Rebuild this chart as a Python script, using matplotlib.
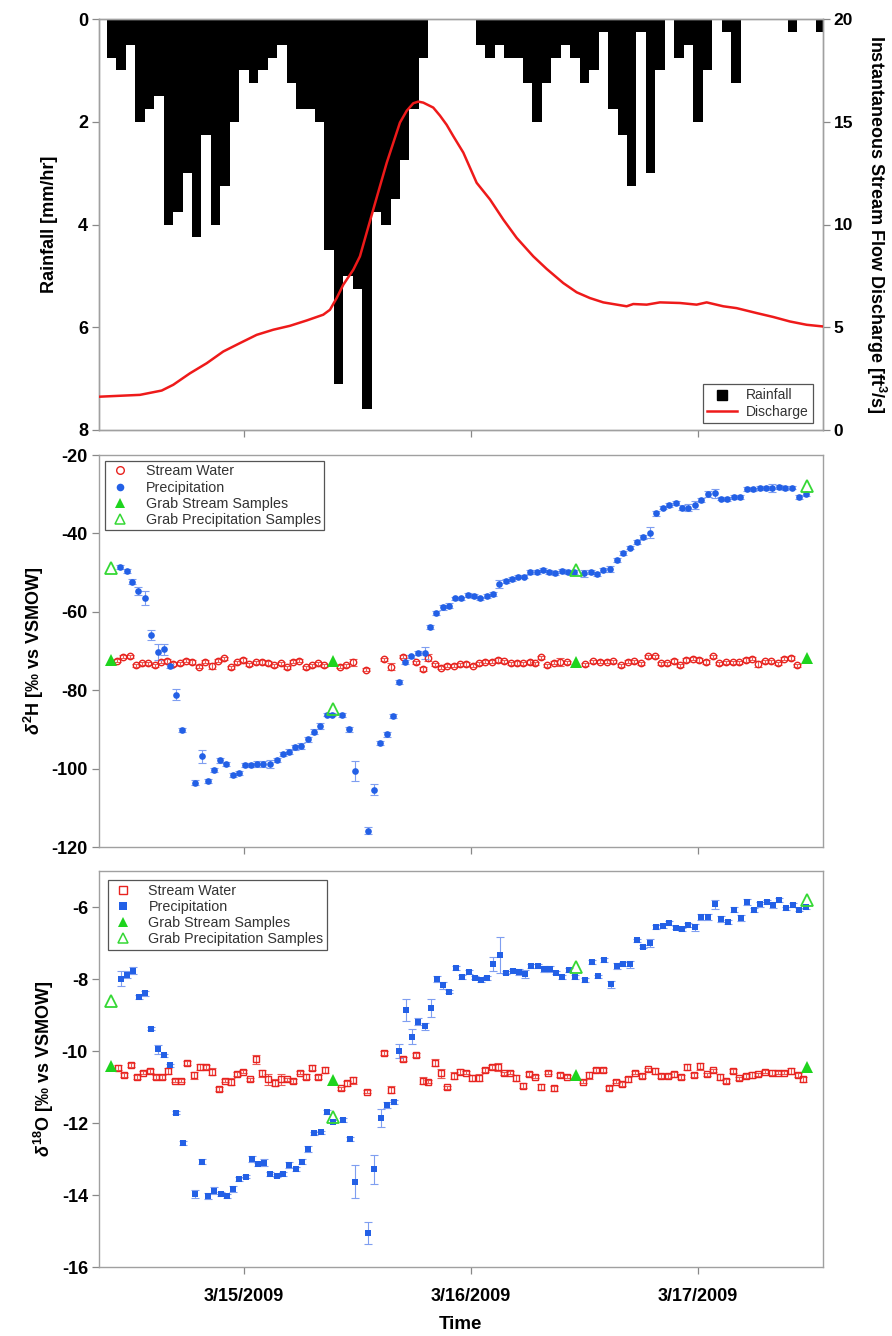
import numpy as np
import matplotlib
matplotlib.use('Agg')
import matplotlib.pyplot as plt
from matplotlib.lines import Line2D

plt.rcParams['font.family'] = ['Liberation Sans', 'DejaVu Sans']
plt.rcParams['mathtext.fontset'] = 'custom'
plt.rcParams['mathtext.rm'] = 'Liberation Sans:bold'
plt.rcParams['mathtext.it'] = 'Liberation Sans:italic:bold'
plt.rcParams['mathtext.bf'] = 'Liberation Sans:bold'
plt.rcParams['axes.unicode_minus'] = False

# ---------------- data (time in hours since 3/14/2009 00:00) ----------------
rain_start_hour = 10
rain = [0.75, 1.0, 0.5, 2.0, 1.75, 1.5, 4.0, 3.75, 3.0, 4.25,
        2.25, 4.0, 3.25, 2.0, 1.0, 1.25, 1.0, 0.75, 0.5, 1.25,
        1.75, 1.75, 2.0, 4.5, 7.1, 5.0, 5.25, 7.6, 3.75, 4.0,
        3.5, 2.75, 1.75, 0.75, 0, 0, 0, 0, 0, 0.5,
        0.75, 0.5, 0.75, 0.75, 1.25, 2.0, 1.25, 0.75, 0.5, 0.75,
        1.25, 1.0, 0.25, 1.75, 2.25, 3.25, 0.25, 3.0, 1.0, 0,
        0.75, 0.5, 2.0, 1.0, 0, 0.25, 1.25, 0, 0, 0,
        0, 0, 0.25, 0, 0, 0.25]

q_t = [8.70, 13.0, 15.3, 16.52, 18.29, 20.06, 21.81, 23.58, 25.34, 27.10,
       28.86, 30.63, 32.38, 33.09, 33.80, 34.50, 35.56, 36.26, 36.97, 37.67,
       38.38, 39.09, 39.79, 40.49, 41.20, 41.90, 42.43, 42.96, 44.01, 44.72,
       45.43, 46.13, 47.19, 48.6, 50.01, 51.42, 52.83, 54.59, 56.0, 57.76,
       59.18, 60.58, 61.99, 64.46, 65.16, 66.58, 67.98, 70.10, 71.86, 72.92,
       74.68, 76.09, 78.21, 79.96, 81.73, 83.49, 85.18]
q_v = [1.62, 1.71, 1.92, 2.2, 2.76, 3.25, 3.82, 4.23, 4.63, 4.88,
       5.07, 5.33, 5.61, 5.85, 6.42, 7.07, 7.8, 8.45, 9.6, 10.73,
       11.87, 13.0, 13.98, 14.96, 15.53, 15.9, 15.98, 15.93, 15.69, 15.3,
       14.85, 14.3, 13.5, 12.03, 11.22, 10.24, 9.35, 8.45, 7.84, 7.15,
       6.7, 6.42, 6.21, 6.02, 6.13, 6.1, 6.21, 6.18, 6.1, 6.21,
       6.02, 5.93, 5.69, 5.5, 5.28, 5.12, 5.04]

# delta 2H precipitation
p2_t = [10.86, 11.60, 12.19, 12.83, 13.57, 14.17, 14.88, 15.54, 16.15, 16.84,
        17.48, 18.85, 19.53, 20.16, 20.83, 21.46, 22.10, 22.81, 23.47, 24.11,
        24.74, 25.41, 26.04, 26.72, 27.46, 28.09, 28.76, 29.43, 30.06, 30.77,
        31.40, 32.00, 32.74, 33.34, 34.33, 35.14, 35.74, 37.08, 37.71, 38.41,
        39.09, 39.75, 40.42, 41.02, 41.69, 42.40, 43.11, 43.67, 44.33, 45.01,
        45.64, 46.31, 46.98, 47.65, 48.32, 48.99, 49.66, 50.30, 50.99, 51.67,
        52.31, 52.94, 53.61, 54.24, 54.95, 55.61, 56.28, 56.91, 57.59, 58.26,
        58.92, 59.95, 60.69, 61.36, 61.99, 62.73, 63.44, 64.10, 64.81, 65.52,
        66.19, 66.89, 67.59, 68.27, 68.94, 69.65, 70.31, 70.98, 71.69, 72.35,
        73.06, 73.77, 74.43, 75.10, 75.78, 76.48, 77.15, 77.82, 78.53, 79.19,
        79.86, 80.57, 81.23, 81.94, 82.65, 83.39]
p2_v = [-48.5, -49.6, -52.3, -54.7, -56.4, -65.9, -70.2, -69.6, -73.8, -81.1,
        -90.2, -103.6, -96.9, -103.1, -100.4, -97.9, -98.8, -101.6, -101.2, -99.1,
        -99.1, -98.8, -98.8, -98.8, -97.8, -96.3, -95.7, -94.6, -94.2, -92.5,
        -90.6, -89.1, -86.2, -86.2, -86.3, -90.0, -100.6, -115.8, -105.4, -93.5,
        -91.3, -86.6, -77.9, -72.9, -71.4, -70.6, -70.6, -63.9, -60.3, -58.9,
        -58.4, -56.6, -56.6, -55.7, -56.0, -56.6, -56.0, -55.5, -53.0, -52.2,
        -51.6, -51.0, -51.0, -49.9, -49.9, -49.3, -49.8, -50.2, -49.6, -49.8,
        -49.8, -50.2, -49.8, -50.4, -49.3, -49.1, -46.9, -45.1, -43.6, -42.3,
        -41.0, -39.8, -34.9, -33.4, -32.8, -32.3, -33.4, -33.4, -32.8, -31.5,
        -29.9, -29.8, -31.1, -31.2, -30.6, -30.8, -28.7, -28.8, -28.5, -28.5,
        -28.5, -28.1, -28.5, -28.3, -30.8, -29.9]
p2_e = [0.5, 0.5, 0.6, 1.0, 1.8, 1.2, 2.0, 1.5, 0.6, 1.5,
        0.5, 0.7, 1.6, 0.5, 0.5, 0.6, 0.6, 0.5, 0.5, 0.5,
        0.5, 0.8, 0.8, 1.0, 0.6, 0.6, 0.6, 0.6, 0.8, 0.6,
        0.6, 0.7, 0.5, 0.5, 0.5, 0.6, 2.5, 0.9, 1.4, 0.6,
        0.6, 0.6, 0.5, 0.5, 0.5, 0.5, 1.5, 0.6, 0.5, 0.6,
        0.6, 0.5, 0.5, 0.5, 0.5, 0.5, 0.5, 0.5, 1.0, 0.5,
        0.5, 0.5, 0.5, 0.5, 0.5, 0.5, 0.5, 0.5, 0.5, 0.5,
        0.5, 0.8, 0.5, 0.5, 0.5, 0.8, 0.5, 0.5, 0.5, 0.5,
        0.5, 1.5, 0.6, 0.5, 0.5, 0.5, 0.6, 0.8, 1.0, 0.5,
        0.8, 1.2, 0.5, 0.5, 0.5, 0.5, 0.6, 0.5, 0.5, 0.5,
        1.0, 0.5, 0.5, 0.5, 0.5, 0.5]

# delta 2H stream water
s2_t = [10.60, 11.21, 11.95, 12.61, 13.25, 13.88, 14.59, 15.23, 15.89, 16.49,
        17.20, 17.90, 18.53, 19.24, 19.91, 20.59, 21.22, 21.89, 22.59, 23.23,
        23.89, 24.56, 25.24, 25.87, 26.54, 27.20, 27.88, 28.52, 29.21, 29.85,
        30.52, 31.16, 31.79, 32.49, 34.15, 34.79, 35.56, 36.87, 38.84, 39.51,
        40.84, 42.19, 42.89, 43.49, 44.19, 44.83, 45.50, 46.17, 46.84, 47.50,
        48.18, 48.85, 49.51, 50.19, 50.86, 51.52, 52.20, 52.87, 53.53, 54.21,
        54.77, 55.37, 56.07, 56.75, 57.41, 58.12, 60.01, 60.93, 61.64, 62.35,
        63.05, 63.89, 64.57, 65.24, 66.01, 66.75, 67.46, 68.09, 68.76, 69.43,
        70.10, 70.77, 71.44, 72.11, 72.82, 73.56, 74.26, 74.96, 75.67, 76.37,
        77.05, 77.71, 78.38, 79.05, 79.75, 80.46, 81.13, 81.80, 82.50]
s2_v = [-72.5, -71.5, -71.3, -73.6, -73.1, -73.1, -73.6, -72.7, -72.5, -73.3,
        -73.1, -72.5, -72.9, -74.0, -72.7, -73.8, -72.5, -71.9, -74.1, -72.9,
        -72.3, -73.4, -72.9, -72.9, -73.1, -73.6, -73.1, -74.2, -72.7, -72.5,
        -74.2, -73.6, -73.1, -73.6, -74.0, -73.6, -72.9, -74.8, -72.1, -74.0,
        -71.5, -72.9, -74.6, -71.7, -73.4, -74.3, -73.7, -73.8, -73.4, -73.3,
        -73.7, -73.1, -72.7, -72.7, -72.3, -72.6, -73.1, -73.1, -73.1, -72.9,
        -73.1, -71.6, -73.6, -73.0, -72.7, -72.9, -73.4, -72.6, -72.7, -72.7,
        -72.6, -73.6, -72.7, -72.6, -73.1, -71.4, -71.4, -73.1, -73.1, -72.6,
        -73.6, -72.3, -72.0, -72.3, -72.7, -71.4, -73.1, -72.9, -72.9, -72.9,
        -72.3, -72.0, -73.4, -72.6, -72.6, -73.1, -72.0, -71.7, -73.6]
s2_e = [0.4, 0.4, 0.4, 0.4, 0.4, 0.4, 0.4, 0.4, 0.5, 0.4,
        0.4, 0.4, 0.5, 0.4, 0.4, 0.8, 0.4, 0.4, 0.4, 0.4,
        0.4, 0.4, 0.4, 0.5, 0.5, 0.4, 0.4, 0.4, 0.4, 0.4,
        0.4, 0.4, 0.4, 0.4, 0.4, 0.4, 0.8, 0.4, 0.4, 0.9,
        0.4, 0.4, 0.6, 0.9, 0.4, 0.4, 0.4, 0.4, 0.4, 0.4,
        0.4, 0.4, 0.4, 0.4, 0.4, 0.4, 0.4, 0.5, 0.4, 0.5,
        0.4, 0.4, 0.4, 0.4, 1.0, 0.4, 0.4, 0.4, 0.4, 0.4,
        0.4, 0.4, 0.4, 0.4, 0.4, 0.4, 0.4, 0.4, 0.4, 0.5,
        0.4, 0.4, 0.4, 0.4, 0.5, 0.5, 0.4, 0.4, 0.4, 0.4,
        0.4, 0.4, 0.8, 0.4, 0.4, 0.4, 0.4, 0.5, 0.4]

# delta 18O precipitation
p18_t = [10.96, 11.63, 12.23, 12.90, 13.57, 14.20, 14.91, 15.57, 16.18, 16.84,
         17.52, 18.85, 19.59, 20.19, 20.86, 21.54, 22.17, 22.84, 23.47, 24.18,
         24.85, 25.48, 26.15, 26.78, 27.49, 28.16, 28.79, 29.47, 30.13, 30.80,
         31.43, 32.11, 32.78, 33.44, 34.43, 35.21, 35.77, 37.14, 37.78, 38.49,
         39.15, 39.83, 40.42, 41.10, 41.76, 42.40, 43.11, 43.74, 44.38, 45.07,
         45.68, 46.42, 47.08, 47.76, 48.42, 49.06, 49.72, 50.36, 51.07, 51.70,
         52.41, 53.04, 53.68, 54.38, 55.05, 55.69, 56.32, 56.99, 57.65, 58.33,
         58.97, 60.05, 60.76, 61.40, 62.06, 62.77, 63.47, 64.10, 64.81, 65.52,
         66.19, 66.89, 67.59, 68.30, 68.94, 69.65, 70.31, 70.98, 71.69, 72.35,
         73.09, 73.80, 74.43, 75.14, 75.84, 76.55, 77.21, 77.89, 78.59, 79.27,
         79.90, 80.60, 81.34, 82.01, 82.65, 83.39]
p18_v = [-7.99, -7.88, -7.77, -8.50, -8.40, -9.38, -9.95, -10.12, -10.40, -11.71,
         -12.56, -13.97, -13.07, -14.02, -13.88, -13.97, -14.02, -13.84, -13.56, -13.49,
         -12.99, -13.15, -13.10, -13.42, -13.46, -13.41, -13.17, -13.27, -13.07, -12.73,
         -12.29, -12.26, -11.70, -11.96, -11.92, -12.45, -13.63, -15.05, -13.29, -11.86,
         -11.50, -11.41, -10.00, -8.86, -9.60, -9.19, -9.31, -8.80, -8.01, -8.17,
         -8.35, -7.70, -7.95, -7.80, -7.96, -8.03, -7.98, -7.59, -7.33, -7.82,
         -7.77, -7.80, -7.86, -7.64, -7.64, -7.73, -7.73, -7.82, -7.95, -7.75,
         -7.94, -8.03, -7.52, -7.93, -7.48, -8.15, -7.64, -7.59, -7.59, -6.93,
         -7.10, -7.00, -6.56, -6.53, -6.45, -6.57, -6.62, -6.50, -6.56, -6.27,
         -6.27, -5.93, -6.34, -6.41, -6.07, -6.31, -5.86, -6.09, -5.93, -5.86,
         -5.94, -5.81, -6.04, -5.95, -6.07, -6.00]
p18_e = [0.20, 0.10, 0.10, 0.05, 0.08, 0.05, 0.12, 0.05, 0.05, 0.05,
         0.05, 0.10, 0.06, 0.08, 0.10, 0.05, 0.05, 0.08, 0.05, 0.05,
         0.08, 0.05, 0.10, 0.05, 0.05, 0.05, 0.08, 0.05, 0.08, 0.08,
         0.05, 0.05, 0.05, 0.05, 0.05, 0.05, 0.45, 0.30, 0.40, 0.25,
         0.08, 0.05, 0.20, 0.30, 0.20, 0.10, 0.10, 0.25, 0.08, 0.10,
         0.05, 0.05, 0.05, 0.05, 0.05, 0.05, 0.05, 0.20, 0.50, 0.05,
         0.05, 0.08, 0.12, 0.05, 0.05, 0.08, 0.08, 0.05, 0.05, 0.05,
         0.05, 0.05, 0.05, 0.05, 0.05, 0.10, 0.08, 0.05, 0.10, 0.05,
         0.05, 0.10, 0.05, 0.05, 0.05, 0.05, 0.05, 0.05, 0.10, 0.08,
         0.08, 0.12, 0.08, 0.05, 0.08, 0.08, 0.08, 0.05, 0.08, 0.05,
         0.08, 0.05, 0.05, 0.05, 0.05, 0.05]

# delta 18O stream water
s18_t = [10.68, 11.31, 12.05, 12.72, 13.35, 14.03, 14.66, 15.33, 16.00, 16.67,
         17.31, 18.01, 18.68, 19.32, 19.95, 20.65, 21.33, 21.96, 22.63, 23.26,
         23.93, 24.63, 25.27, 25.94, 26.57, 27.25, 27.91, 28.55, 29.21, 29.89,
         30.52, 31.22, 31.86, 32.56, 34.31, 34.86, 35.56, 36.97, 38.84, 39.54,
         40.84, 42.19, 42.89, 43.49, 44.19, 44.83, 45.50, 46.17, 46.84, 47.47,
         48.14, 48.81, 49.48, 50.19, 50.86, 51.46, 52.13, 52.79, 53.47, 54.13,
         54.77, 55.40, 56.11, 56.75, 57.41, 58.12, 59.81, 60.51, 61.22, 61.93,
         62.59, 63.30, 64.00, 64.63, 65.34, 66.05, 66.75, 67.46, 68.12, 68.80,
         69.50, 70.17, 70.87, 71.58, 72.21, 72.92, 73.62, 74.33, 74.96, 75.67,
         76.34, 77.05, 77.71, 78.38, 79.09, 79.80, 80.46, 81.13, 81.84, 82.54,
         83.13]
s18_v = [-10.46, -10.67, -10.39, -10.73, -10.60, -10.56, -10.73, -10.73, -10.55, -10.82,
         -10.82, -10.34, -10.67, -10.45, -10.45, -10.57, -11.06, -10.82, -10.85, -10.64,
         -10.57, -10.79, -10.23, -10.62, -10.79, -10.88, -10.79, -10.79, -10.83, -10.60,
         -10.71, -10.46, -10.73, -10.53, -11.04, -10.90, -10.81, -11.13, -10.06, -11.08,
         -10.22, -10.11, -10.83, -10.85, -10.32, -10.62, -11.01, -10.69, -10.57, -10.60,
         -10.76, -10.74, -10.53, -10.44, -10.44, -10.62, -10.60, -10.76, -10.96, -10.64,
         -10.71, -11.01, -10.60, -11.04, -10.67, -10.71, -10.85, -10.67, -10.53, -10.53,
         -11.02, -10.85, -10.91, -10.79, -10.60, -10.69, -10.51, -10.56, -10.69, -10.69,
         -10.65, -10.72, -10.44, -10.67, -10.42, -10.65, -10.54, -10.72, -10.83, -10.56,
         -10.76, -10.69, -10.67, -10.65, -10.57, -10.60, -10.60, -10.60, -10.56, -10.67,
         -10.79]
s18_e = [0.08, 0.05, 0.05, 0.05, 0.05, 0.05, 0.05, 0.05, 0.08, 0.05,
         0.05, 0.05, 0.10, 0.08, 0.05, 0.10, 0.05, 0.05, 0.10, 0.05,
         0.05, 0.05, 0.12, 0.10, 0.15, 0.10, 0.15, 0.05, 0.05, 0.05,
         0.08, 0.08, 0.05, 0.08, 0.05, 0.08, 0.10, 0.05, 0.05, 0.10,
         0.05, 0.05, 0.10, 0.05, 0.10, 0.12, 0.05, 0.10, 0.08, 0.05,
         0.08, 0.10, 0.05, 0.05, 0.12, 0.05, 0.05, 0.08, 0.08, 0.05,
         0.05, 0.08, 0.05, 0.08, 0.05, 0.05, 0.05, 0.10, 0.05, 0.05,
         0.05, 0.05, 0.05, 0.08, 0.05, 0.05, 0.05, 0.08, 0.05, 0.05,
         0.08, 0.05, 0.08, 0.05, 0.10, 0.05, 0.05, 0.08, 0.05, 0.05,
         0.05, 0.05, 0.08, 0.05, 0.05, 0.08, 0.05, 0.05, 0.08, 0.05,
         0.08]

# grab samples
grab_t = [9.95, 33.40, 59.10, 83.50]
grab_s2 = [-72.3, -72.5, -72.7, -71.9]
grab_p2 = [-48.9, -84.8, -49.3, -27.8]
grab_s18 = [-10.42, -10.81, -10.67, -10.44]
grab_p18 = [-8.60, -11.82, -7.68, -5.80]

day_ticks = [24, 48, 72]
day_labels = ['3/15/2009', '3/16/2009', '3/17/2009']
x_range = (8.67, 85.19)

# ---------------- styling ----------------
RED = '#e8231f'
RED_ERR = '#ec5a55'
BLUE = '#2360e6'
BLUE_ERR = '#7f9ef0'
GREEN = '#1ed41e'
GREEN_OPEN = '#35d835'
SPINE = '#a0a0a0'
TICK_FS = 13
LABEL_FS = 13

fig = plt.figure(figsize=(8.92, 13.36), dpi=100)
L = 99 / 892
W = (822.7 - 99) / 892
ax1 = fig.add_axes([L, 1 - 430 / 1336, W, 411 / 1336])
ax2 = fig.add_axes([L, 1 - 847 / 1336, W, 392 / 1336])
ax3 = fig.add_axes([L, 1 - 1267 / 1336, W, 396 / 1336])


def style_axis(ax):
    for s in ax.spines.values():
        s.set_color(SPINE)
        s.set_linewidth(1.0)
    ax.tick_params(direction='out', color='#888888', length=5, width=0.9,
                   labelsize=TICK_FS, pad=3)
    ax.set_xlim(*x_range)
    ax.set_xticks(day_ticks)


def bold_ticks(ax):
    for lab in ax.get_xticklabels() + ax.get_yticklabels():
        lab.set_fontweight('bold')


# ---------------- top panel ----------------
rain_hours = rain_start_hour + np.arange(len(rain))
ax1.bar(rain_hours, rain, width=1.0, color='black', align='center',
        linewidth=0, zorder=2)
ax1.set_ylim(8, 0)
ax1.set_yticks([0, 2, 4, 6, 8])
style_axis(ax1)
ax1.set_xticklabels([])
ax1.set_ylabel('Rainfall [mm/hr]', fontsize=LABEL_FS, fontweight='bold', labelpad=14)

ax1b = ax1.twinx()
ax1b.plot(q_t, q_v, color='#ee1a1a', lw=1.8, zorder=3)
ax1b.set_ylim(0, 20)
ax1b.set_yticks([0, 5, 10, 15, 20])
style_axis(ax1b)
ax1b.tick_params(axis='y', labelsize=12.5)
ax1b.set_ylabel('Instantaneous Stream Flow Discharge [ft$^{3}$/s]', fontsize=13,
                fontweight='bold', rotation=270, va='bottom', labelpad=8)
bold_ticks(ax1)
bold_ticks(ax1b)

h_rain = Line2D([], [], marker='s', color='black', linestyle='none', markersize=7)
h_q = Line2D([], [], color='#ee1a1a', lw=1.8)
leg = ax1b.legend([h_rain, h_q], ['Rainfall', 'Discharge'], loc='lower right',
                  bbox_to_anchor=(0.986, 0.016), borderaxespad=0, fontsize=10,
                  fancybox=False, edgecolor='#555555', framealpha=1,
                  handlelength=2.2, handletextpad=0.6, labelspacing=0.2,
                  borderpad=0.3)
leg.get_frame().set_linewidth(0.9)
for t in leg.get_texts():
    t.set_color('#333333')


# ---------------- isotope panels ----------------
def isotope_panel(ax, st, sv, se, pt, pv, pe, gs, gp, marker, ylim, yticks,
                  ylabel, leg_anchor):
    ax.errorbar(st, sv, yerr=se, fmt='none', ecolor=RED_ERR, elinewidth=0.8,
                capsize=2.6, capthick=0.8, zorder=2)
    ax.errorbar(pt, pv, yerr=pe, fmt='none', ecolor=BLUE_ERR, elinewidth=0.8,
                capsize=2.6, capthick=0.8, zorder=2)
    ax.plot(st, sv, linestyle='none', marker=marker, markersize=4.6,
            markerfacecolor='none', markeredgecolor=RED,
            markeredgewidth=1.0, zorder=3)
    ax.plot(pt, pv, linestyle='none', marker=marker, markersize=4.8,
            color=BLUE, markeredgewidth=0, zorder=3)
    ax.plot(grab_t, gs, linestyle='none', marker='^', markersize=8,
            color=GREEN, markeredgewidth=0, zorder=4)
    ax.plot(grab_t, gp, linestyle='none', marker='^', markersize=8,
            markerfacecolor='none', markeredgecolor=GREEN_OPEN,
            markeredgewidth=1.3, zorder=4)
    ax.set_ylim(*ylim)
    ax.set_yticks(yticks)
    style_axis(ax)
    ax.set_ylabel(ylabel, fontsize=LABEL_FS, fontweight='bold', labelpad=4)
    h1 = Line2D([], [], linestyle='none', marker=marker, markersize=5.5,
                markerfacecolor='none', markeredgecolor=RED, markeredgewidth=1.0)
    h2 = Line2D([], [], linestyle='none', marker=marker, markersize=5.5,
                color=BLUE, markeredgewidth=0)
    h3 = Line2D([], [], linestyle='none', marker='^', markersize=6.5,
                color=GREEN, markeredgewidth=0)
    h4 = Line2D([], [], linestyle='none', marker='^', markersize=6.5,
                markerfacecolor='none', markeredgecolor=GREEN_OPEN,
                markeredgewidth=1.1)
    lg = ax.legend([h1, h2, h3, h4],
                   ['Stream Water', 'Precipitation', 'Grab Stream Samples',
                    'Grab Precipitation Samples'],
                   loc='upper left', bbox_to_anchor=leg_anchor, borderaxespad=0,
                   fontsize=10.3, fancybox=False, edgecolor='#555555',
                   framealpha=1, handlelength=1.6, handletextpad=1.0,
                   labelspacing=0.15, borderpad=0.25)
    lg.get_frame().set_linewidth(0.9)
    for t in lg.get_texts():
        t.set_color('#333333')


isotope_panel(ax2, s2_t, s2_v, s2_e, p2_t, p2_v, p2_e, grab_s2, grab_p2, 'o',
              (-120, -20), [-120, -100, -80, -60, -40, -20],
              r'$\delta^{2}$H [‰ vs VSMOW]', (0.008, 0.985))
ax2.set_xticklabels([])
bold_ticks(ax2)

isotope_panel(ax3, s18_t, s18_v, s18_e, p18_t, p18_v, p18_e, grab_s18, grab_p18,
              's', (-16, -5), [-16, -14, -12, -10, -8, -6],
              r'$\delta^{18}$O [‰ vs VSMOW]', (0.012, 0.977))
ax3.set_xticklabels(day_labels)
ax3.tick_params(axis='x', pad=10)
ax3.set_xlabel('Time', fontsize=13.5, fontweight='bold', labelpad=8)
bold_ticks(ax3)

fig.savefig('out.png', dpi=100)
